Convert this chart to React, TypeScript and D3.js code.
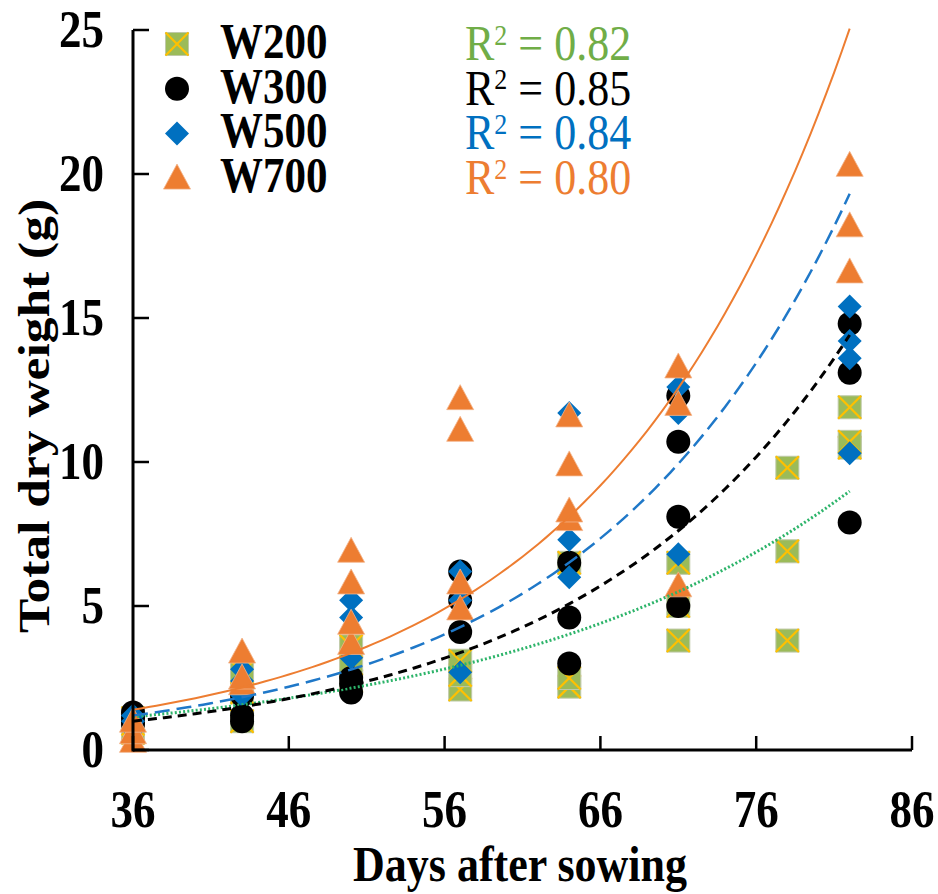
import React from "react";
import * as d3 from "d3";

const days = [36, 43, 50, 57, 64, 71, 78, 82];
// replicate values per sampling day (same order as days)
const w200 = [[0.6, 0.9, 1.1], [1.0, 2.0, 2.7], [2.4, 3.0, 3.6], [2.1, 2.6, 3.1], [2.2, 2.5, 6.5], [3.8, 5.0, 6.5], [3.8, 6.9, 9.8], [10.5, 10.7, 11.9]];
const w300 = [[0.9, 1.1, 1.3], [1.0, 1.2, 1.9], [2.0, 2.3, 2.5], [4.1, 5.2, 6.2], [3.0, 4.6, 6.5], [5.0, 8.1, 10.7, 12.3], [], [7.9, 13.1, 14.8]];
const w500 = [[0.7, 1.0, 1.2], [1.9, 2.4, 2.8], [3.2, 4.6, 5.2], [2.7, 5.2, 6.2], [6.0, 7.3, 11.7], [6.8, 11.7, 12.6], [], [10.3, 13.6, 14.2, 15.4]];
const w700 = [[0.3, 0.6, 1.0], [2.3, 2.5, 3.4], [3.7, 4.4, 5.8, 6.9], [4.9, 5.8, 11.1, 12.2], [8.0, 8.3, 9.9, 11.6], [5.7, 12.0, 13.3], [], [16.6, 18.2, 20.3]];

const seriesNames = ["W200", "W300", "W500", "W700"];
const r2Labels = ["0.82", "0.85", "0.84", "0.80"];
// exponential trend y = a * exp(b * (day - 36))
const fitA = [1.15, 1.0, 1.2, 1.4];
const fitB = [0.0447, 0.058, 0.0604, 0.0627];

const xTicks = [36, 46, 56, 66, 76, 86];
const yTicks = [0, 5, 10, 15, 20, 25];

const FONT = "'Liberation Serif', 'Times New Roman', serif";
const GREEN = "#9BBB59";
const YELLOW = "#FFC000";
const BLUE = "#0070C0";
const ORANGE = "#ED7D31";
const R2COLORS = ["#70AD47", "#000000", "#0070C0", "#ED7D31"];
const LINECOLORS = ["#2DB46A", "#000000", "#1F78C8", "#ED7D31"];
const DASHES = ["2 2.2", "9 6", "15 7", ""];
const LINEW = [3, 3, 2.5, 2];
const SY = 1.17; // glyph vertical stretch

function Marker({ kind, cx, cy }: { kind: number; cx: number; cy: number }) {
  if (kind === 0) {
    const s = 11.5;
    return (
      <g>
        <rect x={cx - s} y={cy - s} width={2 * s} height={2 * s} fill={GREEN} stroke="#BFC9A8" strokeWidth={1} />
        <line x1={cx - s} y1={cy - s} x2={cx + s} y2={cy + s} stroke={YELLOW} strokeWidth={2.2} />
        <line x1={cx - s} y1={cy + s} x2={cx + s} y2={cy - s} stroke={YELLOW} strokeWidth={2.2} />
      </g>
    );
  }
  if (kind === 1) return <circle cx={cx} cy={cy} r={12} fill="#000" />;
  if (kind === 2) {
    const s = 12;
    return <path d={`M${cx},${cy - s}L${cx + s},${cy}L${cx},${cy + s}L${cx - s},${cy}Z`} fill={BLUE} />;
  }
  return <path d={`M${cx},${cy - 14}L${cx + 13.5},${cy + 11}L${cx - 13.5},${cy + 11}Z`} fill={ORANGE} stroke="#F2B48A" strokeWidth={0.8} />;
}

function T({ x, y, children, ...rest }: any) {
  return (
    <text transform={`translate(${x},${y}) scale(1,${SY})`} {...rest}>
      {children}
    </text>
  );
}

export default function App() {
  const W = 938, H = 894;
  const x = d3.scaleLinear().domain([36, 86]).range([133, 912]);
  const y = d3.scaleLinear().domain([0, 25]).range([750, 30]);
  const all = [w200, w300, w500, w700];

  const curves = fitA.map((a, i) => {
    const pts = d3.range(36, 82.001, 0.5).map((d) => [x(d), y(a * Math.exp(fitB[i] * (d - 36)))] as [number, number]);
    return d3.line()(pts) as string;
  });

  return (
    <svg width={W} height={H} style={{ position: "absolute", left: 0, top: 0, background: "#fff" }} fontFamily={FONT}>
      {all.map((ser, si) => (
        <g key={si}>
          {ser.map((vals, di) =>
            vals.map((v, k) => <Marker key={`${di}-${k}`} kind={si} cx={x(days[di])} cy={y(v)} />)
          )}
        </g>
      ))}
      {curves.map((p, i) => (
        <path key={i} d={p} fill="none" stroke={LINECOLORS[i]} strokeWidth={LINEW[i]} strokeDasharray={DASHES[i] || undefined} />
      ))}
      <line x1={x(36)} y1={y(0)} x2={x(86)} y2={y(0)} stroke="#000" strokeWidth={3} />
      <line x1={x(36)} y1={y(0) + 1.5} x2={x(36)} y2={y(25)} stroke="#000" strokeWidth={3} />
      {xTicks.map((t) => (
        <g key={t}>
          <line x1={x(t)} y1={y(0)} x2={x(t)} y2={y(0) - 14} stroke="#000" strokeWidth={2.5} />
          <T x={x(t)} y={827} textAnchor="middle" fontSize={45} fontWeight="bold">{t}</T>
        </g>
      ))}
      {yTicks.map((t) => (
        <g key={t}>
          <line x1={x(36)} y1={y(t)} x2={x(36) + 16} y2={y(t)} stroke="#000" strokeWidth={2.5} />
          <T x={104} y={y(t) + 17} textAnchor="end" fontSize={45} fontWeight="bold">{t}</T>
        </g>
      ))}
      <T x={520} y={881} textAnchor="middle" fontSize={44} fontWeight="bold">Days after sowing</T>
      <text transform={`translate(49,416) rotate(-90) scale(${SY},1)`} textAnchor="middle" fontSize={44} fontWeight="bold">Total dry weight (g)</text>
      {seriesNames.map((n, i) => (
        <g key={n}>
          <Marker kind={i} cx={177} cy={44 + i * 44.7} />
          <T x={220} y={58 + i * 44.7} fontSize={43} fontWeight="bold">{n}</T>
          <T x={465} y={60 + i * 44.7} fontSize={44} fill={R2COLORS[i]}>
            R<tspan fontSize={26} dy={-13}>2</tspan><tspan dy={13}> = {r2Labels[i]}</tspan>
          </T>
        </g>
      ))}
    </svg>
  );
}
